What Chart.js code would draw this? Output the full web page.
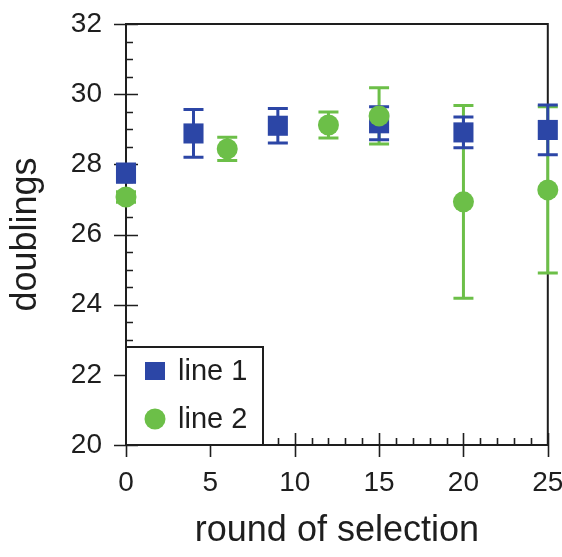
<!DOCTYPE html>
<html>
<head>
<meta charset="utf-8">
<script src="https://cdn.jsdelivr.net/npm/chart.js@4.4.1/dist/chart.umd.min.js"></script>
<style>
  html, body { margin: 0; padding: 0; background: #fff; }
  #wrap { width: 562px; height: 557px; position: relative; }
</style>
</head>
<body>
<div id="wrap"><canvas id="chart"></canvas></div>
<script>
// values
var rounds1 = [0, 4, 9, 15, 20, 25];
var line1 = [27.75, 28.88, 29.1, 29.17, 28.91, 28.98];
var err1 = [0.26, 0.68, 0.49, 0.47, 0.44, 0.71];

var rounds2 = [0, 6, 12, 15, 20, 25];
var line2 = [27.07, 28.44, 29.12, 29.38, 26.93, 27.27];
var err2 = [0.15, 0.33, 0.37, 0.8, 2.75, 2.37];

var xTickValues = [0, 5, 10, 15, 20, 25];
var yTickValues = [20, 22, 24, 26, 28, 30, 32];

var blue = '#2c46a6';
var green = '#6cbf48';
var ink = '#1e1e1e';
var fontFam = '"Liberation Sans", Arial, sans-serif';

function toPoints(xs, ys) {
    return xs.map(function (x, i) { return {x: x, y: ys[i]}; });
}

// keep the label overflow from pushing the plot area around
function noScalePad(s) {
    s.paddingTop = 0;
    s.paddingBottom = 0;
    s.paddingLeft = 0;
    s.paddingRight = 0;
}

// frame + ticks + error bars, drawn under the markers
var framePlugin = {
    id: 'frame',
    beforeDatasetsDraw: function (chart) {
        var ctx = chart.ctx;
        var a = chart.chartArea;
        var xs = chart.scales.x, ys = chart.scales.y;
        ctx.save();
        ctx.strokeStyle = ink;
        ctx.lineWidth = 2;
        ctx.beginPath();
        ctx.rect(a.left, a.top, a.right - a.left, a.bottom - a.top);
        ctx.stroke();

        ctx.lineWidth = 1.6;
        ctx.beginPath();
        // y ticks, minor every 0.5
        for (var v = ys.min; v <= ys.max + 0.001; v += 0.5) {
            var py = Math.round(ys.getPixelForValue(v)) + 0.5;
            var major = yTickValues.indexOf(v) >= 0;
            ctx.moveTo(major ? a.left - 12 : a.left, py);
            ctx.lineTo(a.left + (major ? 12 : 7), py);
        }
        // x ticks, minor every 1
        for (var u = xs.min; u <= xs.max + 0.001; u += 1) {
            var px = Math.round(xs.getPixelForValue(u)) + 0.5;
            var maj = xTickValues.indexOf(u) >= 0;
            ctx.moveTo(px, maj ? a.bottom + 12 : a.bottom);
            ctx.lineTo(px, a.bottom - (maj ? 12 : 7));
        }
        ctx.stroke();

        // error bars, green first so blue caps sit on top
        [1, 0].forEach(function (di) {
            var ds = chart.data.datasets[di];
            var errs = ds.errors;
            ctx.strokeStyle = ds.backgroundColor;
            ctx.lineWidth = 3;
            ctx.beginPath();
            ds.data.forEach(function (p, i) {
                var px = xs.getPixelForValue(p.x);
                var top = ys.getPixelForValue(p.y + errs[i]);
                var bot = ys.getPixelForValue(p.y - errs[i]);
                ctx.moveTo(px, top);
                ctx.lineTo(px, bot);
                ctx.moveTo(px - 10, top);
                ctx.lineTo(px + 10, top);
                ctx.moveTo(px - 10, bot);
                ctx.lineTo(px + 10, bot);
            });
            ctx.stroke();
        });
        ctx.restore();
    }
};

// legend box in the lower left corner of the plot
var legendPlugin = {
    id: 'boxLegend',
    afterDatasetsDraw: function (chart) {
        var ctx = chart.ctx;
        var a = chart.chartArea;
        var w = 137, h = 98;
        var left = a.left, top = a.bottom - h;
        ctx.save();
        ctx.fillStyle = '#fff';
        ctx.fillRect(left, top, w, h);
        ctx.strokeStyle = ink;
        ctx.lineWidth = 2;
        ctx.strokeRect(left, top, w, h);

        ctx.font = '29px ' + fontFam;
        ctx.textBaseline = 'middle';
        chart.data.datasets.forEach(function (ds, i) {
            var cy = top + 24 + i * 48;
            var cx = left + 29;
            ctx.fillStyle = ds.backgroundColor;
            if (ds.pointStyle === 'rect') {
                ctx.fillRect(cx - 10, cy - 9, 20, 18);
            } else {
                ctx.beginPath();
                ctx.arc(cx, cy, 10.5, 0, Math.PI * 2);
                ctx.fill();
            }
            ctx.fillStyle = ink;
            ctx.fillText(ds.label, left + 52, cy + 1);
        });
        ctx.restore();
    }
};

var ctx = document.getElementById('chart');
var chart = new Chart(ctx, {
    type: 'scatter',
    data: {
        datasets: [{
            label: 'line 1',
            data: toPoints(rounds1, line1),
            errors: err1,
            backgroundColor: blue,
            borderColor: blue,
            borderWidth: 0,
            pointStyle: 'rect',
            pointRadius: 14.2,
            pointHoverRadius: 14.2,
            clip: false,
            order: 1
        }, {
            label: 'line 2',
            data: toPoints(rounds2, line2),
            errors: err2,
            backgroundColor: green,
            borderColor: green,
            borderWidth: 0,
            pointStyle: 'circle',
            pointRadius: 10.5,
            pointHoverRadius: 10.5,
            clip: false,
            order: 0
        }]
    },
    options: {
        responsive: true,
        maintainAspectRatio: false,
        animation: false,
        events: [],
        layout: {padding: {top: 24, right: 14, left: 0, bottom: 0}},
        plugins: {
            legend: {display: false},
            tooltip: {enabled: false}
        },
        scales: {
            x: {
                type: 'linear',
                min: 0,
                max: 25,
                grid: {display: false, drawTicks: false},
                border: {display: false},
                afterBuildTicks: function (s) {
                    s.ticks = xTickValues.map(function (v) { return {value: v}; });
                },
                afterFit: function (s) { s.height = 112; noScalePad(s); },
                ticks: {
                    color: ink,
                    font: {family: fontFam, size: 28},
                    padding: 21,
                    maxRotation: 0
                },
                title: {
                    display: true,
                    text: 'round of selection',
                    color: ink,
                    font: {family: fontFam, size: 36},
                    padding: {top: 0, bottom: 4}
                }
            },
            y: {
                type: 'linear',
                min: 20,
                max: 32,
                grid: {display: false, drawTicks: false},
                border: {display: false},
                afterBuildTicks: function (s) {
                    s.ticks = yTickValues.map(function (v) { return {value: v}; });
                },
                afterFit: function (s) { s.width = 126; noScalePad(s); },
                ticks: {
                    color: ink,
                    font: {family: fontFam, size: 28},
                    padding: 24
                },
                title: {
                    display: true,
                    text: 'doublings',
                    color: ink,
                    font: {family: fontFam, size: 36},
                    padding: {top: 4, bottom: 0}
                }
            }
        }
    },
    plugins: [framePlugin, legendPlugin]
});
</script>
</body>
</html>
